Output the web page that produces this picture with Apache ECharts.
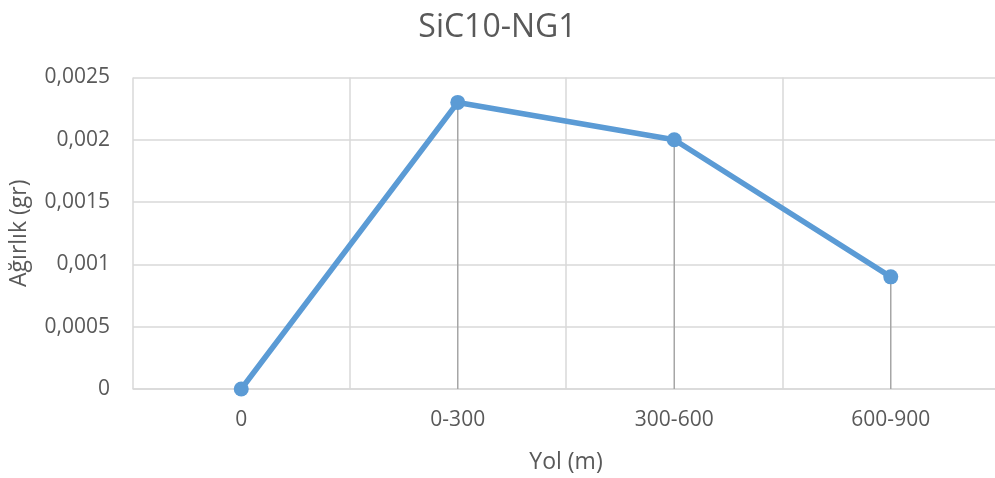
<!DOCTYPE html>
<html>
<head>
<meta charset="utf-8">
<script src="https://cdn.jsdelivr.net/npm/echarts@6/dist/echarts.min.js"></script>
<style>
html,body{margin:0;padding:0;background:#fff;}
#chart{width:995px;height:478px;}
</style>
</head>
<body>
<div id="chart"></div>
<script>
// Distance bands along the road and the weight measured for each
const categories = ['0', '0-300', '300-600', '600-900'];
const weights = [0, 0.0023, 0.002, 0.0009];
const yTicks = [0, 0.0005, 0.001, 0.0015, 0.002, 0.0025];

const FONT = '"Open Sans", "Noto Sans", sans-serif';
const TEXT = '#595959';
const GRID = '#d9d9d9';

const fmt = v => String(v).replace('.', ',');

const chart = echarts.init(document.getElementById('chart'));
chart.setOption({
  animation: false,
  title: {
    text: 'SiC10-NG1',
    left: 'center',
    top: 7,
    textStyle: { fontFamily: FONT, fontSize: 32, fontWeight: 'normal', color: TEXT }
  },
  grid: { left: 133, right: -4, top: 77.5, bottom: 89, outerBoundsMode: 'none', containLabel: false },
  xAxis: {
    type: 'category',
    data: categories,
    boundaryGap: true,
    name: 'Yol (m)',
    nameLocation: 'middle',
    nameGap: 62,
    nameTextStyle: { fontFamily: FONT, fontSize: 23, color: TEXT },
    axisLine: { show: true, lineStyle: { color: GRID, width: 1.5 } },
    axisTick: { show: false },
    axisLabel: { fontFamily: FONT, fontSize: 21, color: TEXT, margin: 21 },
    splitLine: { show: true, lineStyle: { color: GRID, width: 1.5 } }
  },
  yAxis: {
    type: 'value',
    min: yTicks[0],
    max: yTicks[yTicks.length - 1],
    interval: yTicks[1] - yTicks[0],
    name: 'Ağırlık (gr)',
    nameLocation: 'middle',
    nameGap: 102,
    nameRotate: 90,
    nameTextStyle: { fontFamily: FONT, fontSize: 23, color: TEXT },
    axisLine: { show: false },
    axisTick: { show: false },
    axisLabel: { fontFamily: FONT, fontSize: 21, color: TEXT, margin: 23, formatter: v => fmt(v) },
    splitLine: { show: true, lineStyle: { color: GRID, width: 1.5 } }
  },
  series: [
    {
      // drop lines from each point down to the axis
      type: 'bar',
      data: weights,
      barWidth: 1.5,
      itemStyle: { color: '#a6a6a6' },
      silent: true,
      z: 2
    },
    {
      type: 'line',
      data: weights,
      symbol: 'circle',
      symbolSize: 15,
      lineStyle: { color: '#5b9bd5', width: 5.5 },
      itemStyle: { color: '#5b9bd5' },
      z: 3
    }
  ]
});
</script>
</body>
</html>
